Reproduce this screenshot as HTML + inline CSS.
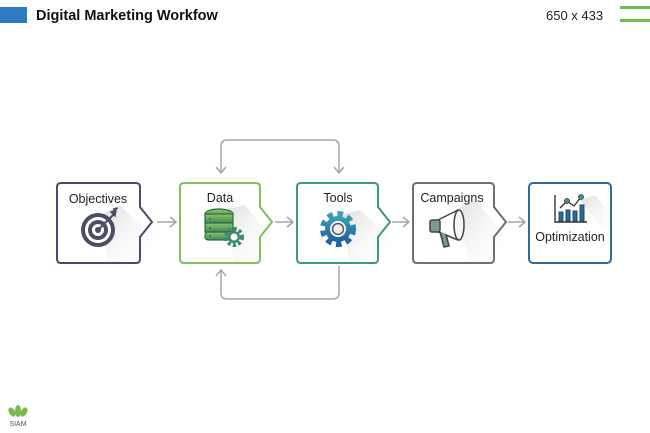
<!DOCTYPE html>
<html><head><meta charset="utf-8"><style>
html,body{margin:0;padding:0;background:#fff;width:650px;height:433px;overflow:hidden}
svg text{font-family:"Liberation Sans",Arial,sans-serif}
</style></head><body>
<svg width="650" height="433" viewBox="0 0 650 433" xmlns="http://www.w3.org/2000/svg">
<defs>
<linearGradient id="sh" x1="0" y1="0" x2="1" y2="1"><stop offset="0" stop-color="#d8d8d8"/><stop offset="1" stop-color="#fff" stop-opacity="0"/></linearGradient>
<linearGradient id="gb" x1="0" y1="0" x2="0" y2="1"><stop offset="0" stop-color="#3aa0b8"/><stop offset="1" stop-color="#1e5f9e"/></linearGradient>
<linearGradient id="gg" x1="0" y1="0" x2="0" y2="1"><stop offset="0" stop-color="#8cc56a"/><stop offset="1" stop-color="#3d8a5a"/></linearGradient>
</defs>
<rect x="0" y="7" width="27" height="16" fill="#2e7bbf"/>
<text x="36" y="20" font-size="14.5" font-weight="bold" fill="#111">Digital Marketing Workfow</text>
<text x="546" y="20" font-size="13" fill="#222">650 x 433</text>
<rect x="620" y="6" width="30" height="3" fill="#6cbf4a"/>
<rect x="620" y="19" width="30" height="3" fill="#6cbf4a"/>

<!-- loops -->
<path d="M221 172 V146 Q221 140 227 140 H333 Q339 140 339 146 V172" fill="none" stroke="#a5a5a5" stroke-width="1.5"/>
<path d="M216 167 L221 173 L226 167 M334 167 L339 173 L344 167" fill="none" stroke="#a5a5a5" stroke-width="1.5"/>
<path d="M221 271 V293 Q221 299 227 299 H333 Q339 299 339 293 V266" fill="none" stroke="#a5a5a5" stroke-width="1.5"/>
<path d="M216 276 L221 270 L226 276" fill="none" stroke="#a5a5a5" stroke-width="1.5"/>

<!-- connectors -->
<g fill="none" stroke="#a5a5a5" stroke-width="1.5">
<path d="M157 222 H176 M170 217 L176 222 L170 227"/>
<path d="M275 222 H293 M287 217 L293 222 L287 227"/>
<path d="M392 222 H409 M403 217 L409 222 L403 227"/>
<path d="M508 222 H525 M519 217 L525 222 L519 227"/>
</g>

<!-- shadows -->
<g fill="url(#sh)" opacity="0.9">
<polygon points="100,215 120,205 152,237 140,263 108,263"/>
<polygon points="222,210 245,205 272,237 260,263 235,263"/>
<polygon points="340,215 360,210 390,237 378,263 350,263"/>
<polygon points="455,210 475,200 506,237 494,263 470,263"/>
<polygon points="580,200 595,195 611,215 611,240"/>
</g>

<!-- boxes -->
<g fill="none" stroke-width="2">
<path d="M61 183 H136 Q140 183 140 187 V207 L152 222 L140 237 V259 Q140 263 136 263 H61 Q57 263 57 259 V187 Q57 183 61 183 Z" stroke="#4a4a6a"/>
<path d="M184 183 H256 Q260 183 260 187 V207 L272 222 L260 237 V259 Q260 263 256 263 H184 Q180 263 180 259 V187 Q180 183 184 183 Z" stroke="#7fc15e"/>
<path d="M301 183 H374 Q378 183 378 187 V207 L390 222 L378 237 V259 Q378 263 374 263 H301 Q297 263 297 259 V187 Q297 183 301 183 Z" stroke="#3a9a7a"/>
<path d="M417 183 H490 Q494 183 494 187 V207 L506 222 L494 237 V259 Q494 263 490 263 H417 Q413 263 413 259 V187 Q413 183 417 183 Z" stroke="#707070"/>
<rect x="529" y="183" width="82" height="80" rx="4" stroke="#2f6a9a"/>
</g>

<g font-size="12.5" fill="#222" text-anchor="middle">
<text x="98" y="203">Objectives</text>
<text x="220" y="202">Data</text>
<text x="338" y="202">Tools</text>
<text x="452" y="202">Campaigns</text>
<text x="570" y="241">Optimization</text>
</g>

<!-- target -->
<circle cx="98" cy="230" r="17" fill="#4a4d66"/>
<circle cx="98" cy="230" r="13" fill="#fff"/>
<circle cx="98" cy="230" r="10" fill="#4a4d66"/>
<circle cx="98" cy="230" r="6" fill="#fff"/>
<circle cx="98" cy="230" r="3" fill="#4a4d66"/>
<path d="M98 230 L114 214" stroke="#4a4d66" stroke-width="2"/>
<path d="M111 212 L116 210 L115 216 Z M113 209 L118 208" fill="#4a4d66" stroke="#4a4d66" stroke-width="1.5"/>

<!-- database -->
<g stroke="#2f6a44" stroke-width="1.2" fill="url(#gg)">
<ellipse cx="219" cy="214" rx="14" ry="5"/>
<rect x="205" y="214" width="28" height="9"/>
<rect x="205" y="223" width="28" height="9"/>
<rect x="205" y="232" width="28" height="8" rx="3"/>
</g>
<g stroke="#2f6a44" stroke-width="1.2"><path d="M209 219 h2 M209 228 h2 M209 236 h2"/></g>
<circle cx="234" cy="237" r="8" fill="none" stroke="#3d8a6a" stroke-width="4" stroke-dasharray="3 2.3"/>
<circle cx="234" cy="237" r="6" fill="#3d8a6a"/>
<circle cx="234" cy="237" r="3.5" fill="#fff"/>

<!-- gear -->
<circle cx="338" cy="229" r="15" fill="none" stroke="url(#gb)" stroke-width="6" stroke-dasharray="5.5 4.5"/>
<circle cx="338" cy="229" r="13" fill="url(#gb)"/>
<circle cx="338" cy="229" r="8" fill="#fff"/>
<circle cx="338" cy="229" r="5.5" fill="#eee" stroke="#555" stroke-width="1.5"/>

<!-- megaphone -->
<g stroke="#444" stroke-width="1.5" stroke-linejoin="round">
<path d="M436 221 L458 210 L458 240 L436 231 Z" fill="#fff"/>
<ellipse cx="459" cy="225" rx="5" ry="15" fill="#f4f4f4"/>
<rect x="430" y="220" width="10" height="12" rx="2" fill="#7a9a8e"/>
<path d="M440 232 L444 247 L449 246 L446 234" fill="#7a9a8e"/>
</g>

<!-- chart -->
<g stroke="#333" stroke-width="1.4" fill="none">
<path d="M555 195 V222 H587"/>
</g>
<g fill="#2f6a9a" stroke="#1e4a70" stroke-width="1">
<rect x="559" y="212" width="4" height="9"/><rect x="566" y="210" width="4" height="11"/><rect x="573" y="211" width="4" height="10"/><rect x="580" y="205" width="4" height="16"/>
</g>
<path d="M560 208 L567 201 L574 206 L581 197" stroke="#333" stroke-width="1.3" fill="none"/>
<g fill="#3a9a8a" stroke="#333" stroke-width="0.8"><circle cx="567" cy="201" r="2.5"/><circle cx="581" cy="197" r="2.5"/></g>

<!-- logo -->
<g fill="#7cb850"><ellipse cx="18" cy="411" rx="3" ry="6"/><ellipse cx="12" cy="412" rx="3" ry="5" transform="rotate(-30 12 412)"/><ellipse cx="24" cy="412" rx="3" ry="5" transform="rotate(30 24 412)"/></g>
<text x="18" y="426" font-size="7" fill="#556" text-anchor="middle" font-family="Liberation Serif,serif">SIAM</text>
</svg>
</body></html>
